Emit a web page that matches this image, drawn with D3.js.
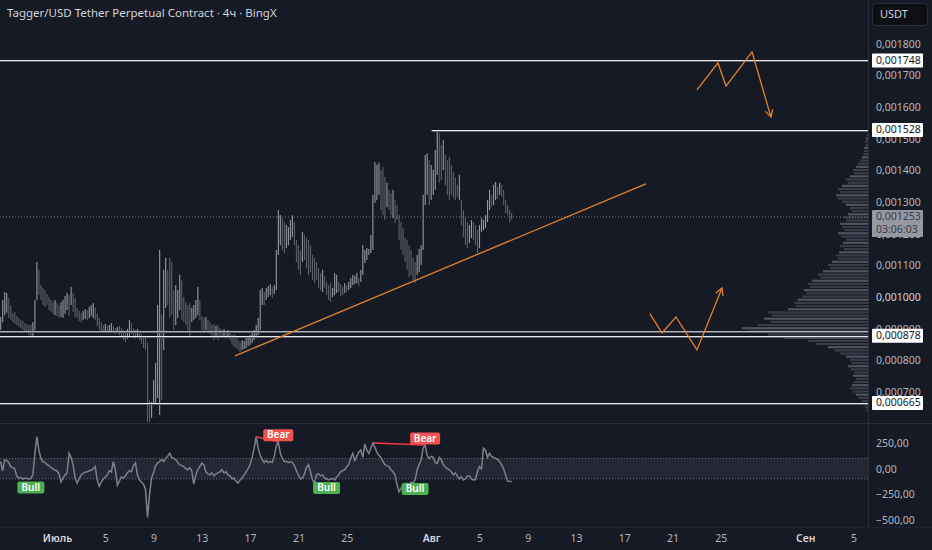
<!DOCTYPE html>
<html>
<head>
<meta charset="utf-8">
<script src="https://cdn.jsdelivr.net/npm/d3@7"></script>
<style>
  html, body { margin: 0; background: #161a25; }
  svg { display: block; font-family: "Noto Sans", sans-serif; }
</style>
</head>
<body>
<svg id="chart" width="932" height="550"></svg>
<script>
// ---- Data (prices in millionths of USDT, i.e. 1253 = 0,001253) ----
const candleStart = Date.UTC(2025, 5, 26, 8); // first 4h bar
const candleHours = 4;

const highs = [
  937, 991, 1016, 1013, 997, 975, 950, 953, 940, 934,
  928, 925, 918, 915, 912, 912, 921, 991, 1111, 1086,
  1038, 1029, 1022, 1010, 1000, 991, 984, 991, 981, 975,
  984, 991, 1003, 1013, 1006, 1032, 1013, 997, 966, 956,
  950, 956, 962, 959, 969, 975, 981, 966, 947, 934,
  921, 912, 915, 909, 912, 918, 909, 902, 906, 909,
  902, 896, 890, 899, 928, 918, 902, 896, 899, 893,
  883, 877, 871, 855, 675, 668, 738, 792, 975, 1149,
  943, 1086, 1124, 1086, 1124, 1111, 1022, 1038, 1022, 1070,
  1054, 1000, 984, 975, 981, 966, 975, 991, 1032, 991,
  940, 934, 937, 928, 921, 912, 915, 909, 912, 902,
  896, 899, 893, 896, 890, 880, 883, 871, 864, 858,
  864, 861, 871, 874, 880, 887, 896, 912, 934, 1022,
  1029, 1016, 1029, 1035, 1041, 1032, 1038, 1149, 1275, 1259,
  1250, 1237, 1228, 1221, 1244, 1259, 1237, 1180, 1164, 1149,
  1206, 1196, 1187, 1180, 1164, 1133, 1124, 1111, 1092, 1076,
  1086, 1067, 1048, 1038, 1044, 1029, 1076, 1070, 1048, 1041,
  1032, 1044, 1038, 1048, 1060, 1070, 1067, 1076, 1060, 1086,
  1164, 1149, 1155, 1152, 1196, 1323, 1427, 1418, 1424, 1402,
  1411, 1380, 1361, 1339, 1329, 1339, 1307, 1291, 1259, 1237,
  1218, 1187, 1180, 1164, 1149, 1124, 1111, 1133, 1152, 1164,
  1323, 1449, 1455, 1433, 1418, 1402, 1465, 1528, 1518, 1481,
  1496, 1449, 1433, 1443, 1418, 1396, 1377, 1355, 1386, 1307,
  1275, 1250, 1237, 1228, 1244, 1237, 1228, 1212, 1228, 1250,
  1244, 1259, 1307, 1339, 1323, 1355, 1364, 1348, 1361, 1355,
  1339, 1307, 1291, 1275, 1266
];

const lows = [
  896, 921, 943, 950, 934, 928, 921, 915, 912, 906,
  902, 896, 893, 887, 880, 874, 877, 896, 991, 1006,
  991, 975, 969, 975, 959, 953, 947, 943, 940, 934,
  937, 934, 947, 959, 940, 975, 953, 937, 934, 925,
  921, 928, 931, 928, 934, 940, 934, 928, 909, 896,
  893, 890, 893, 887, 890, 893, 887, 883, 887, 880,
  871, 864, 858, 868, 877, 883, 871, 868, 871, 864,
  852, 839, 833, 605, 605, 618, 659, 665, 681, 627,
  675, 833, 966, 975, 934, 943, 896, 912, 934, 959,
  928, 921, 912, 896, 874, 921, 928, 934, 943, 928,
  896, 890, 896, 890, 883, 871, 864, 874, 864, 871,
  871, 874, 868, 871, 864, 849, 842, 839, 833, 826,
  833, 836, 839, 845, 849, 855, 864, 871, 880, 896,
  975, 975, 991, 1000, 1006, 997, 1010, 1022, 1133, 1164,
  1149, 1139, 1155, 1164, 1180, 1190, 1164, 1111, 1086, 1070,
  1111, 1117, 1092, 1070, 1079, 1054, 1044, 1054, 1029, 1022,
  1016, 1029, 1006, 991, 984, 1000, 1006, 1013, 1016, 1003,
  1006, 1013, 1016, 1022, 1029, 1038, 1041, 1044, 1035, 1048,
  1070, 1108, 1117, 1133, 1139, 1149, 1298, 1307, 1323, 1275,
  1259, 1244, 1284, 1275, 1259, 1250, 1234, 1244, 1180, 1149,
  1133, 1111, 1086, 1063, 1070, 1054, 1044, 1070, 1079, 1102,
  1149, 1291, 1323, 1291, 1307, 1323, 1339, 1386, 1361, 1370,
  1402, 1354, 1323, 1307, 1323, 1313, 1307, 1317, 1307, 1228,
  1190, 1164, 1155, 1171, 1187, 1180, 1164, 1139, 1155, 1206,
  1212, 1218, 1237, 1275, 1285, 1291, 1307, 1310, 1323, 1317,
  1291, 1266, 1259, 1237, 1244
];

// oscillator pane, one value per bar
const osc = [
  70, -20, 85, 80, 60, 20, 10, 0, -70, -95,
  -85, -100, -90, -95, -100, -95, -60, 150, 312, 180,
  100, 69, 60, 40, 30, 10, 0, -15, -20, -50,
  -130, -90, -60, -40, 150, 110, 40, -85, -140, -100,
  -60, -45, -35, -30, -20, -15, 0, 20, -110, -170,
  -130, -100, -80, -60, -20, -30, 70, -10, -160, -120,
  -80, -90, -70, -40, -20, -30, 30, 55, -60, -110,
  -130, -150, -200, -473, -250, -90, -40, 30, 55, 70,
  90, 70, 100, 120, 150, 110, 100, 90, 60, 40,
  30, 20, 0, -10, 10, -20, -150, -60, -10, 20,
  55, 40, -30, -50, -60, -40, -70, -50, -40, -30,
  -10, -40, -30, -60, -70, -100, -90, -120, -140, -110,
  -90, -60, -30, 0, 40, 110, 200, 310, 200, 130,
  90, 60, 80, 60, 70, 60, 120, 220, 263, 150,
  100, 70, 70, 60, 70, 60, 30, -20, -60, -100,
  -90, -50, 10, 40, -30, -110, -140, -60, -50, -70,
  -60, -90, -100, -110, -100, -95, -110, -80, -60, -30,
  -20, -10, 20, 40, 100, 150, 80, 120, 160, 182,
  110, 240, 180, 150, 200, 250, 210, 160, 130, 110,
  70, 40, 30, 20, -10, -30, -60, -150, -224, -190,
  -170, -150, -140, -160, -130, -140, -110, -12, 40, 85,
  200, 231, 130, 100, 120, 110, 60, 50, 110, 90,
  40, 20, 0, -10, -30, -60, -40, -70, -100, -80,
  -110, -100, -70, -70, -100, -110, -105, -30, 20, 0,
  200, 180, 110, 150, 120, 110, 100, 90, 70, 40,
  0, -60, -120, -125, -125
];

const signalBars = [15, 138, 162, 211, 206];
const signalTypes = ['Bull', 'Bear', 'Bull', 'Bear', 'Bull'];
const bearDivergences = [[127, 138], [185, 211]];

// volume profile rows (price centre, relative volume)
const profilePrices = [
  1530, 1520, 1510, 1500, 1490, 1480, 1470, 1460, 1450, 1440,
  1430, 1420, 1410, 1400, 1390, 1380, 1370, 1360, 1350, 1340,
  1330, 1320, 1310, 1300, 1290, 1280, 1270, 1260, 1250, 1240,
  1230, 1220, 1210, 1200, 1190, 1180, 1170, 1160, 1150, 1140,
  1130, 1120, 1110, 1100, 1090, 1080, 1070, 1060, 1050, 1040,
  1030, 1020, 1010, 1000, 990, 980, 970, 960, 950, 940,
  930, 920, 910, 900, 890, 880, 870, 860, 850, 840,
  830, 820, 810, 800, 790, 780, 770, 760, 750, 740,
  730, 720, 710, 700, 690, 680, 670, 660, 650, 640
];
const profileVolumes = [
  0, 0, 1, 2, 3, 3, 4, 4, 5, 6,
  8, 10, 12, 15, 14, 18, 22, 20, 26, 30,
  28, 32, 30, 26, 22, 18, 16, 20, 24, 22,
  28, 26, 24, 30, 27, 22, 25, 28, 24, 29,
  32, 30, 36, 40, 38, 45, 50, 48, 56, 60,
  58, 64, 62, 66, 70, 74, 72, 80, 100, 96,
  104, 98, 110, 126, 118, 100, 84, 60, 52, 40,
  34, 28, 22, 18, 16, 20, 17, 14, 15, 12,
  14, 16, 18, 15, 12, 10, 6, 4, 3, 2
];

// horizontal levels; labelled ones get a white tag on the axis
const levelPrices = [1748, 1528, 893, 878, 665];
const levelLabelled = [true, true, false, true, true];
const levelStart = [null, '2025-08-01T01:00Z', null, null, null];
const lastPrice = 1253;
const countdown = '03:06:03';

// drawings (time, price)
const trendLine = [['2025-07-15T18:00Z', 814], ['2025-08-18T19:00Z', 1358]];
const zigzagTop = [
  ['2025-08-23T00:30Z', 1655], ['2025-08-24T18:15Z', 1740], ['2025-08-25T10:20Z', 1667],
  ['2025-08-27T14:00Z', 1775], ['2025-08-29T03:40Z', 1569]
];
const zigzagBottom = [
  ['2025-08-19T03:00Z', 947], ['2025-08-20T03:00Z', 887], ['2025-08-21T06:45Z', 937],
  ['2025-08-23T00:30Z', 833], ['2025-08-25T02:20Z', 1029]
];

// axes
const timeTicks = ['2025-07-01', '2025-07-05', '2025-07-09', '2025-07-13', '2025-07-17', '2025-07-21',
  '2025-07-25', '2025-08-01', '2025-08-05', '2025-08-09', '2025-08-13', '2025-08-17', '2025-08-21',
  '2025-08-25', '2025-09-01', '2025-09-05'];
const timeTickLabels = ['Июль', '5', '9', '13', '17', '21', '25', 'Авг', '5', '9', '13', '17', '21', '25', 'Сен', '5'];
const priceTicks = [1800, 1700, 1600, 1500, 1400, 1300, 1200, 1100, 1000, 900, 800, 700];
const oscTicks = [250, 0, -250, -500];

const title = 'Tagger/USD Tether Perpetual Contract · 4ч · BingX';

// ---- Layout ----
const W = 932, H = 550;
const plotRight = 868;
const mainBottom = 423;
const oscTop = 424, oscBottom = 527;
const axisFont = 10.5;

const ru = d3.formatLocale({ decimal: ',', thousands: ' ', grouping: [3], currency: ['', ''], minus: '−' });
const fmtPrice = v => ru.format('.6f')(v / 1e6);
const fmtOsc = ru.format('.2f');

const svg = d3.select('#chart');
svg.append('rect').attr('width', W).attr('height', H).attr('fill', '#161a25');

const x = d3.scaleUtc()
  .domain([new Date(Date.UTC(2025, 5, 26, 6, 40)), new Date(Date.UTC(2025, 8, 6, 4, 36))])
  .range([0, plotRight]);
const y = d3.scaleLinear().domain([602, 1939]).range([mainBottom, 0]);
const yOsc = d3.scaleLinear().domain([-567, 435]).range([oscBottom, oscTop]);
const xVol = d3.scaleLinear().domain([0, d3.max(profileVolumes)]).range([0, 126]);

const barTime = i => new Date(candleStart + i * candleHours * 3600e3);

svg.append('clipPath').attr('id', 'mainClip')
  .append('rect').attr('width', plotRight).attr('height', mainBottom);
svg.append('clipPath').attr('id', 'oscClip')
  .append('rect').attr('y', oscTop).attr('width', plotRight).attr('height', oscBottom - oscTop);

const main = svg.append('g').attr('clip-path', 'url(#mainClip)');

// Volume profile
main.append('g').selectAll('rect')
  .data(profilePrices)
  .join('rect')
  .attr('x', (d, i) => plotRight - xVol(profileVolumes[i]))
  .attr('y', d => y(d + 5))
  .attr('width', (d, i) => xVol(profileVolumes[i]))
  .attr('height', d => Math.max(0.5, y(d - 5) - y(d + 5) - 1))
  .attr('fill', (d, i) => i % 3 === 0 ? '#6a6d78' : '#4a4d58')
  .attr('opacity', 0.7);

// Candles (hi-lo bars)
const mids = highs.map((h, i) => (h + lows[i]) / 2);
main.append('g').selectAll('rect')
  .data(highs)
  .join('rect')
  .attr('x', (d, i) => x(barTime(i)) - 0.5)
  .attr('y', d => y(d))
  .attr('width', 1.1)
  .attr('height', (d, i) => Math.max(1, y(lows[i]) - y(d)))
  .attr('fill', (d, i) => (i === 0 || mids[i] >= mids[i - 1]) ? '#9598a1' : '#5d606b');

// Last price dotted line
main.append('line')
  .attr('x1', 0).attr('x2', plotRight)
  .attr('y1', y(lastPrice)).attr('y2', y(lastPrice))
  .attr('stroke', '#787b86').attr('stroke-dasharray', '1,2');

// Horizontal levels
levelPrices.forEach((p, i) => {
  const x0 = levelStart[i] ? x(new Date(levelStart[i])) : 0;
  const yy = Math.round(y(p)) + 0.5;
  main.append('line').attr('x1', x0).attr('x2', plotRight).attr('y1', yy + 1).attr('y2', yy + 1)
    .attr('stroke', '#5d606b').attr('stroke-width', 1);
  main.append('line').attr('x1', x0).attr('x2', plotRight).attr('y1', yy).attr('y2', yy)
    .attr('stroke', levelLabelled[i] ? '#e8e9ee' : '#b2b5be').attr('stroke-width', 1);
});

// Orange drawings
const orange = '#e0842f';
const toXY = d => [x(new Date(d[0])), y(d[1])];
const line = d3.line();
[trendLine, zigzagTop, zigzagBottom].forEach((pts, k) => {
  const xy = pts.map(toXY);
  main.append('path').attr('d', line(xy))
    .attr('fill', 'none').attr('stroke', orange).attr('stroke-width', 1.3);
  if (k > 0) {
    const [a, b] = xy.slice(-2);
    const ang = Math.atan2(b[1] - a[1], b[0] - a[0]);
    const head = [-0.5, 0.5].map(s => [b[0] - 8 * Math.cos(ang + s), b[1] - 8 * Math.sin(ang + s)]);
    main.append('path').attr('d', line([head[0], b, head[1]]))
      .attr('fill', 'none').attr('stroke', orange).attr('stroke-width', 1.3);
  }
});

// ---- Oscillator pane ----
const oscG = svg.append('g').attr('clip-path', 'url(#oscClip)');
oscG.append('rect')
  .attr('x', 0).attr('width', plotRight)
  .attr('y', yOsc(100)).attr('height', yOsc(-100) - yOsc(100))
  .attr('fill', '#2a2e39').attr('opacity', 0.75);
[100, -100].forEach(v => {
  oscG.append('line').attr('x1', 0).attr('x2', plotRight)
    .attr('y1', yOsc(v)).attr('y2', yOsc(v))
    .attr('stroke', '#787b86').attr('stroke-dasharray', '1,2').attr('opacity', 0.8);
});
oscG.append('path')
  .datum(osc)
  .attr('d', d3.line().x((d, i) => x(barTime(i))).y(d => yOsc(d)))
  .attr('fill', 'none').attr('stroke', '#7e818b').attr('stroke-width', 1.5);

bearDivergences.forEach(([a, b]) => {
  oscG.append('line')
    .attr('x1', x(barTime(a))).attr('y1', yOsc(osc[a]))
    .attr('x2', x(barTime(b))).attr('y2', yOsc(osc[b]))
    .attr('stroke', '#f23645').attr('stroke-width', 1.5);
});

signalBars.forEach((b, i) => {
  const bear = signalTypes[i] === 'Bear';
  const cx = x(barTime(b));
  const vy = yOsc(osc[b]);
  const bw = bear ? 30 : 27, bh = 12;
  const top = bear ? vy - bh - 0.5 : vy + 3;
  const g = svg.append('g');
  g.append('rect').attr('x', cx - bw / 2).attr('y', top).attr('width', bw).attr('height', bh)
    .attr('rx', 2).attr('fill', bear ? '#f05350' : '#4caf50');
  g.append('text').attr('x', cx).attr('y', top + bh / 2 + 0.5)
    .attr('text-anchor', 'middle').attr('dominant-baseline', 'middle')
    .attr('fill', '#ffffff').attr('font-size', 10).attr('font-weight', 600)
    .text(signalTypes[i]);
});

// ---- Frame lines ----
svg.append('line').attr('x1', 0).attr('x2', W).attr('y1', mainBottom + 0.5).attr('y2', mainBottom + 0.5)
  .attr('stroke', '#2a2e39');
svg.append('line').attr('x1', plotRight + 0.5).attr('x2', plotRight + 0.5).attr('y1', 0).attr('y2', oscBottom)
  .attr('stroke', '#2a2e39');
svg.append('line').attr('x1', 0).attr('x2', W).attr('y1', oscBottom + 0.5).attr('y2', oscBottom + 0.5)
  .attr('stroke', '#1f2330');

// ---- Axes ----
const priceAxis = svg.append('g')
  .attr('transform', `translate(${plotRight},0)`)
  .call(d3.axisRight(y).tickValues(priceTicks).tickFormat(fmtPrice).tickSize(0).tickPadding(8));
priceAxis.select('.domain').remove();
priceAxis.selectAll('text')
  .attr('fill', d => d === 1000 ? '#d1d4dc' : '#b2b5be')
  .attr('font-size', axisFont).attr('font-family', '"Noto Sans", sans-serif');

const oscAxis = svg.append('g')
  .attr('transform', `translate(${plotRight},0)`)
  .call(d3.axisRight(yOsc).tickValues(oscTicks).tickFormat(fmtOsc).tickSize(0).tickPadding(8));
oscAxis.select('.domain').remove();
oscAxis.selectAll('text').attr('fill', '#b2b5be').attr('font-size', axisFont)
  .attr('font-family', '"Noto Sans", sans-serif');

const timeAxis = svg.append('g')
  .attr('transform', `translate(0,${oscBottom})`)
  .call(d3.axisBottom(x)
    .tickValues(timeTicks.map(d => new Date(d + 'T00:00Z')))
    .tickFormat((d, i) => timeTickLabels[i])
    .tickSize(0).tickPadding(8));
timeAxis.select('.domain').remove();
timeAxis.selectAll('text')
  .attr('fill', (d, i) => isNaN(+timeTickLabels[i]) ? '#d1d4dc' : '#b2b5be')
  .attr('font-weight', (d, i) => isNaN(+timeTickLabels[i]) ? 600 : 400)
  .attr('font-size', axisFont).attr('font-family', '"Noto Sans", sans-serif');

// Axis tags for levels
levelPrices.forEach((p, i) => {
  if (!levelLabelled[i]) return;
  const yy = y(p);
  svg.append('rect').attr('x', 872).attr('y', yy - 7).attr('width', 51).attr('height', 14)
    .attr('rx', 1).attr('fill', '#ffffff');
  svg.append('text').attr('x', 876).attr('y', yy + 0.5).attr('dominant-baseline', 'middle')
    .attr('fill', '#131722').attr('font-size', axisFont).text(fmtPrice(p));
});

// Last price tag with countdown
const ly = y(lastPrice);
svg.append('rect').attr('x', 872).attr('y', ly - 7).attr('width', 51).attr('height', 27)
  .attr('rx', 1).attr('fill', '#9598a1');
svg.append('text').attr('x', 876).attr('y', ly + 0.5).attr('dominant-baseline', 'middle')
  .attr('fill', '#3b3e48').attr('font-size', axisFont).text(fmtPrice(lastPrice));
svg.append('text').attr('x', 876).attr('y', ly + 13).attr('dominant-baseline', 'middle')
  .attr('fill', '#3b3e48').attr('font-size', axisFont).text(countdown);

// Currency button
svg.append('rect').attr('x', 872.5).attr('y', 3.5).attr('width', 55).attr('height', 22)
  .attr('rx', 4).attr('fill', '#0e0f13').attr('stroke', '#2a2e39');
svg.append('text').attr('x', 880).attr('y', 15).attr('dominant-baseline', 'middle')
  .attr('fill', '#d1d4dc').attr('font-size', 11).text('USDT');

// Title
svg.append('text').attr('x', 7).attr('y', 14).attr('dominant-baseline', 'middle')
  .attr('fill', '#d1d4dc').attr('font-size', 11.5).text(title);
</script>
</body>
</html>
